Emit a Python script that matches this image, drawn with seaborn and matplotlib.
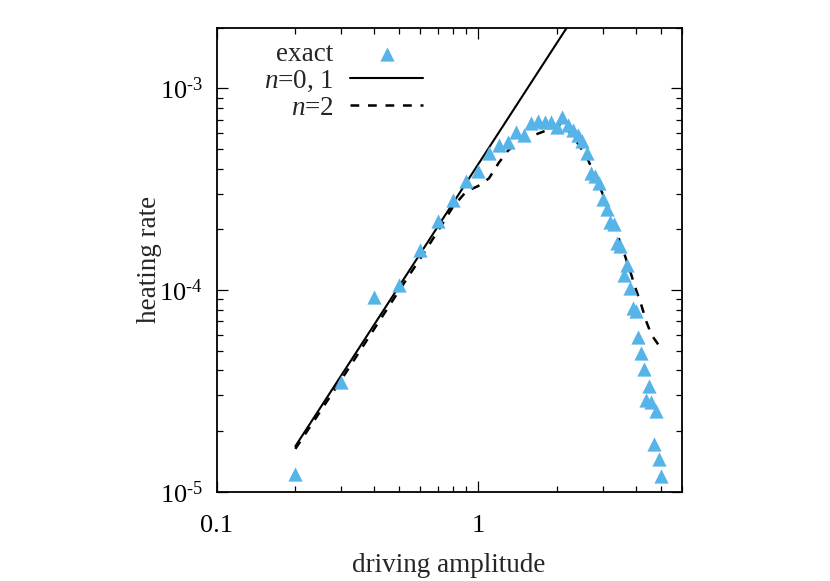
import numpy as np
import pandas as pd
import matplotlib
matplotlib.use("Agg")
import matplotlib.pyplot as plt
from matplotlib.ticker import FixedLocator, FuncFormatter, NullFormatter, LogLocator
import seaborn as sns

# exact data (triangles)
amp_exact = [0.2, 0.3, 0.4, 0.5, 0.6, 0.7, 0.8, 0.9, 1.0,
             1.1, 1.2, 1.3, 1.4, 1.5, 1.6, 1.7, 1.8, 1.9, 2.0,
             2.1, 2.2, 2.3, 2.4, 2.5, 2.6, 2.7, 2.8, 2.9, 3.0,
             3.1, 3.2, 3.3, 3.4, 3.5, 3.6, 3.7, 3.8, 3.9, 4.0,
             4.1, 4.2, 4.3, 4.4, 4.5, 4.6, 4.7, 4.8, 4.9, 5.0]
rate_exact = [1.23e-5, 3.48e-5, 9.26e-5, 1.06e-4, 1.58e-4, 2.20e-4, 2.80e-4, 3.48e-4, 3.90e-4,
              4.78e-4, 5.24e-4, 5.42e-4, 6.08e-4, 5.87e-4, 6.73e-4, 6.89e-4, 6.81e-4, 6.81e-4, 6.43e-4,
              7.21e-4, 6.58e-4, 6.22e-4, 5.87e-4, 5.48e-4, 4.78e-4, 3.81e-4, 3.68e-4, 3.40e-4, 2.83e-4,
              2.53e-4, 2.18e-4, 2.13e-4, 1.72e-4, 1.66e-4, 1.19e-4, 1.33e-4, 1.02e-4, 8.17e-5, 7.90e-5,
              5.87e-5, 4.89e-5, 4.08e-5, 2.86e-5, 3.36e-5, 2.80e-5, 1.72e-5, 2.50e-5, 1.45e-5, 1.19e-5]

# n=0,1 (straight line in log-log)
amp_n01 = [0.2, 0.5, 1.0, 2.0, 2.5]
rate_n01 = [1.68e-5, 1.05e-4, 4.2e-4, 1.68e-3, 2.62e-3]

# n=2
amp_n2 = [0.2, 0.3, 0.4, 0.5, 0.6, 0.7, 0.8, 0.9, 1.0,
          1.1, 1.2, 1.3, 1.4, 1.5, 1.6, 1.8, 2.0, 2.1, 2.2,
          2.4, 2.6, 2.8, 3.0, 3.2, 3.4, 3.6, 3.8, 4.0,
          4.2, 4.4, 4.6, 4.8, 5.0]
rate_n2 = [1.63e-5, 3.6e-5, 6.4e-5, 1.0e-4, 1.43e-4, 1.95e-4, 2.58e-4, 3.08e-4, 3.28e-4,
           3.58e-4, 4.28e-4, 4.91e-4, 5.34e-4, 5.66e-4, 5.80e-4, 6.15e-4, 6.51e-4, 6.74e-4, 6.25e-4,
           5.36e-4, 4.57e-4, 3.72e-4, 2.98e-4, 2.33e-4, 1.9e-4, 1.55e-4, 1.26e-4, 1.02e-4,
           8.5e-5, 6.97e-5, 6.0e-5, 5.55e-5, 5.13e-5]

sns.set_style("ticks")
plt.rcParams["font.family"] = ["Liberation Serif", "DejaVu Serif"]
plt.rcParams["mathtext.fontset"] = "custom"
plt.rcParams["mathtext.rm"] = "Liberation Serif"
plt.rcParams["mathtext.it"] = "Liberation Serif:italic"
plt.rcParams["font.size"] = 19

fig = plt.figure(figsize=(8.3, 5.81), dpi=100)
ax = fig.add_axes([0.261, 0.1537, 0.5602, 0.7986])

sns.scatterplot(x=amp_exact, y=rate_exact, marker="^", s=105, color="#56b4e9",
                edgecolor="#56b4e9", linewidth=0, ax=ax, label="exact", zorder=3)
sns.lineplot(x=amp_n01, y=rate_n01, color="black", lw=1.5, ax=ax, label="$n$=0, 1")
sns.lineplot(x=amp_n2, y=rate_n2, color="black", lw=1.8, ax=ax, label="$n$=2",
             linestyle=(0, (3.5, 3.5)))

ax.set_xscale("log")
ax.set_yscale("log")
ax.set_xlim(0.1, 6)
ax.set_ylim(1e-5, 2e-3)

ax.xaxis.set_major_locator(FixedLocator([0.1, 1]))
ax.xaxis.set_major_formatter(FuncFormatter(lambda v, p: "0.1" if v < 0.5 else "1"))
ax.xaxis.set_minor_locator(LogLocator(base=10, subs=np.arange(2, 10)))
ax.xaxis.set_minor_formatter(NullFormatter())
ax.yaxis.set_major_locator(FixedLocator([1e-5, 1e-4, 1e-3]))
ax.yaxis.set_major_formatter(FuncFormatter(
    lambda v, p: r"$\mathregular{10^{\text{-%d}}}$" % abs(round(np.log10(v)))))
ax.yaxis.set_minor_locator(LogLocator(base=10, subs=np.arange(2, 10)))
ax.yaxis.set_minor_formatter(NullFormatter())

ax.tick_params(which="both", direction="in", top=True, right=True, width=0.9, colors="black")
ax.tick_params(which="major", length=8, labelsize=19)
ax.tick_params(which="minor", length=4)
ax.tick_params(axis="y", pad=10)
ax.tick_params(axis="x", pad=17)
for sp in ax.spines.values():
    sp.set_linewidth(1.3)
    sp.set_color("black")

ax.set_xlabel("driving amplitude", fontsize=19.5, labelpad=11)
ax.set_ylabel("heating rate", fontsize=19.5, labelpad=-2)

ax.legend(loc="upper right", bbox_to_anchor=(0.444, 0.97), frameon=False,
          markerfirst=False, fontsize=19.5, handlelength=2.7, handletextpad=0.6,
          labelspacing=0.07, borderpad=0, borderaxespad=0)

fig.savefig("out.png", dpi=100)
